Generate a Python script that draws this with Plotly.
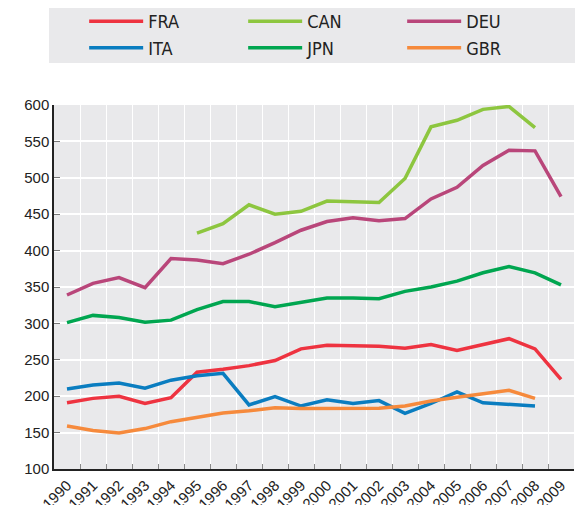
import plotly.graph_objects as go

years = [str(y) for y in range(1990, 2010)]

FRA = [191, 197, 200, 190, 198, 233, 237, 242, 249, 265, 270, 269.5, 268.5, 266, 271, 263, 271, 279, 265, 223]
CAN = [None, None, None, None, None, 424, 437, 463, 450, 454, 468, 467, 466, 499, 570, 579, 594, 598, 569, None]
DEU = [339, 355, 363, 349, 389, 387, 382, 395, 411, 428, 440, 445, 441, 444, 471, 487, 517, 538, 537, 474]
ITA = [210, 215.5, 218, 211, 222, 228, 231.5, 188, 199.5, 186.5, 195, 190, 194, 176.5, 190, 206, 191, 189, 186.5, None]
JPN = [301, 311, 308, 301.5, 304.5, 319, 330, 330, 323, 329, 335, 335, 334, 344, 350, 358, 369.5, 378, 369.5, 353]
GBR = [159, 153, 149.5, 155.5, 165, 171.5, 177, 180, 184, 183, 183, 183, 183.5, 186.5, 193.5, 198.5, 203, 208, 197, None]

series = [
    ("FRA", FRA, "#ee3340"),
    ("CAN", CAN, "#8dc63f"),
    ("DEU", DEU, "#b9467a"),
    ("ITA", ITA, "#0a7dc0"),
    ("JPN", JPN, "#00a650"),
    ("GBR", GBR, "#f68a3c"),
]

fig = go.Figure()
for name, vals, col in series:
    fig.add_trace(go.Scatter(
        x=years, y=vals, name=name, mode="lines",
        line=dict(color=col, width=3.5), connectgaps=False,
    ))

legend_font = dict(family="Liberation Sans Narrow, DejaVu Sans Condensed, Arial Narrow, sans-serif",
                   size=18, color="#222222")

fig.update_layout(
    width=575, height=505,
    margin=dict(l=54, r=1, t=105, b=36),
    paper_bgcolor="white",
    plot_bgcolor="#e9e9eb",
    font=dict(family="Liberation Sans, Arial, sans-serif", size=15, color="#222222"),
    showlegend=True,
    legend=dict(
        orientation="h", x=0.058, xanchor="left", y=1.28, yanchor="top",
        bgcolor="rgba(0,0,0,0)", font=legend_font,
        entrywidth=90, entrywidthmode="pixels", itemwidth=54,
        traceorder="normal",
    ),
    shapes=[dict(
        type="rect", xref="paper", yref="paper",
        x0=-0.0096, x1=1.002, y0=1.1154, y1=1.2665,
        fillcolor="#e9e9eb", line=dict(width=0), layer="below",
    )],
    xaxis=dict(
        type="category", tickson="boundaries", ticks="inside", ticklen=5,
        tickcolor="#888888", tickwidth=1,
        showgrid=True, gridcolor="white", gridwidth=1,
        showline=True, linecolor="#222222", linewidth=1.5,
        tickangle=-45, automargin=False, range=[-0.5, 19.5],
        tickfont=dict(size=15),
    ),
    yaxis=dict(
        range=[100, 600], dtick=50, tick0=100,
        ticks="inside", ticklen=6, tickcolor="#777777", tickwidth=1,
        showgrid=True, gridcolor="white", gridwidth=1.5,
        showline=True, linecolor="#222222", linewidth=1.5,
        zeroline=False, automargin=False,
        tickfont=dict(size=15),
    ),
)

fig.write_html("out.html", config={"displayModeBar": False},
               post_script="document.body.style.margin='0';document.body.style.overflow='hidden';")
